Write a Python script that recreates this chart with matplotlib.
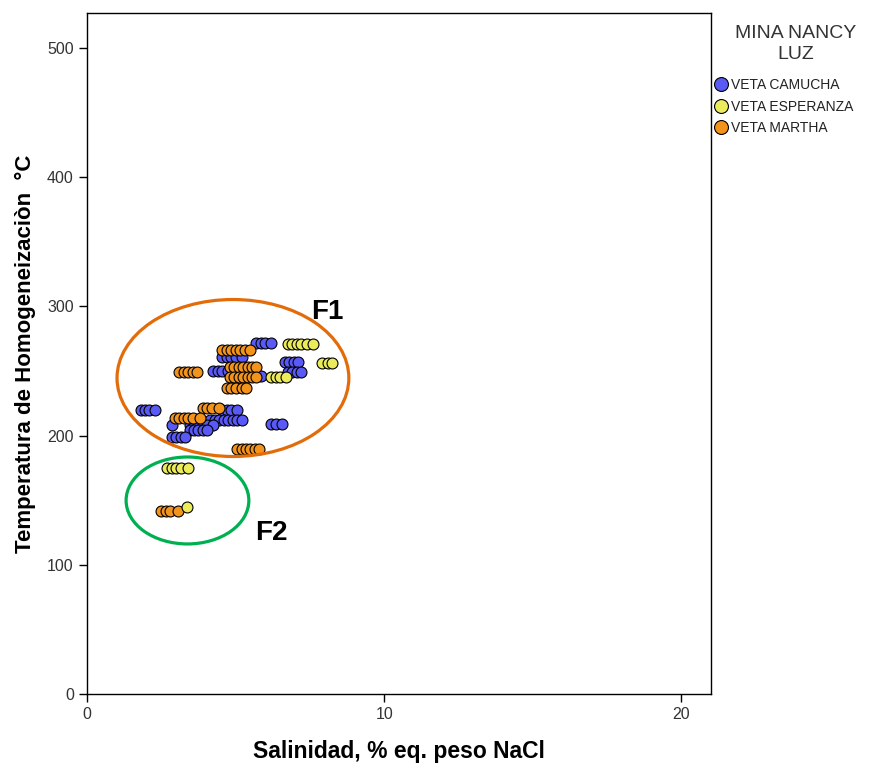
import matplotlib.pyplot as plt
from matplotlib.patches import Ellipse
from matplotlib.lines import Line2D

plt.rcParams['font.family'] = ['Liberation Sans', 'DejaVu Sans']

# salinity (% eq. NaCl) and homogenization temperature (C) per vein
camucha_x = [5.7, 5.85, 6.0, 6.2,
             4.55, 4.7, 4.85, 5.0, 5.2,
             4.25, 4.4, 4.55, 4.75,
             5.4, 5.6, 5.85,
             1.8, 1.95, 2.1, 2.3,
             4.55, 4.7, 4.85, 5.05,
             4.15, 4.3, 4.45, 4.6, 4.75, 4.9, 5.05, 5.2,
             3.45, 3.6, 3.75, 3.9, 4.05, 4.25,
             2.85,
             3.45, 3.6, 3.75, 3.9, 4.05,
             2.85, 3.0, 3.15, 3.3,
             6.65, 6.8, 6.95, 7.1,
             6.75, 6.9, 7.05, 7.2,
             6.2, 6.35, 6.55]
camucha_y = [272, 272, 272, 272,
             261, 261, 261, 261, 261,
             250, 250, 250, 250,
             246, 246, 246,
             220, 220, 220, 220,
             220, 220, 220, 220,
             212, 212, 212, 212, 212, 212, 212, 212,
             208, 208, 208, 208, 208, 208,
             208,
             204, 204, 204, 204, 204,
             199, 199, 199, 199,
             257, 257, 257, 257,
             249, 249, 249, 249,
             209, 209, 209]

esperanza_x = [6.75, 6.9, 7.05, 7.2, 7.4, 7.6,
               7.9, 8.1, 8.25,
               6.2, 6.35, 6.5, 6.7,
               2.7, 2.85, 3.0, 3.15, 3.4,
               3.35]
esperanza_y = [271, 271, 271, 271, 271, 271,
               256, 256, 256,
               245, 245, 245, 245,
               175, 175, 175, 175, 175,
               145]

martha_x = [4.55, 4.7, 4.85, 5.0, 5.15, 5.3, 5.5,
            3.1, 3.25, 3.4, 3.55, 3.7,
            4.8, 4.95, 5.1, 5.25, 5.4, 5.55, 5.7,
            4.8, 4.95, 5.1, 5.25, 5.4, 5.55, 5.7,
            4.7, 4.85, 5.0, 5.2, 5.35,
            3.9, 4.05, 4.2, 4.45,
            2.95, 3.1, 3.25, 3.4, 3.55, 3.8,
            5.05, 5.2, 5.35, 5.5, 5.65, 5.8,
            2.5, 2.65, 2.8, 3.05]
martha_y = [266, 266, 266, 266, 266, 266, 266,
            249, 249, 249, 249, 249,
            253, 253, 253, 253, 253, 253, 253,
            245, 245, 245, 245, 245, 245, 245,
            237, 237, 237, 237, 237,
            221, 221, 221, 221,
            214, 214, 214, 214, 214, 214,
            190, 190, 190, 190, 190, 190,
            142, 142, 142, 142]

labels = ['VETA CAMUCHA', 'VETA ESPERANZA', 'VETA MARTHA']
colors = ['#5959F5', '#EBEB5C', '#F2931C']

fig = plt.figure(figsize=(8.79, 7.65), dpi=100)
ax = fig.add_axes([0.099, 0.0928, 0.71, 0.89])

ax.scatter(camucha_x, camucha_y, s=62, c=colors[0], edgecolors='black', linewidths=0.8, zorder=3)
ax.scatter(martha_x, martha_y, s=62, c=colors[2], edgecolors='black', linewidths=0.8, zorder=3)
ax.scatter(esperanza_x, esperanza_y, s=62, c=colors[1], edgecolors='black', linewidths=0.8, zorder=3)

# grouping ellipses
ax.add_patch(Ellipse((4.91, 244.6), 7.8, 121.5, fill=False, edgecolor='#E36C0A', linewidth=2.3, zorder=4))
ax.add_patch(Ellipse((3.38, 149.8), 4.13, 67.3, fill=False, edgecolor='#00B050', linewidth=2.3, zorder=4))
ax.text(8.07, 296, 'F1', fontsize=20, fontweight='bold', ha='center', va='center')
ax.text(6.22, 125, 'F2', fontsize=20, fontweight='bold', ha='center', va='center')

ax.set_xlim(0, 21)
ax.set_ylim(0, 527)
ax.set_xticks([0, 10, 20])
ax.set_yticks([0, 100, 200, 300, 400, 500])
ax.tick_params(direction='out', length=6, width=1, labelsize=11.5, labelcolor='#333333')
for sp in ax.spines.values():
    sp.set_linewidth(1)

ax.set_xlabel('Salinidad, % eq. peso NaCl', fontsize=16.5, fontweight='bold', labelpad=13)
ax.set_ylabel('Temperatura de Homogeneizaciòn  °C', fontsize=16, fontweight='bold', labelpad=8)

fig.text(796 / 879, 1 - 44 / 765, 'MINA NANCY\nLUZ', ha='center', va='center',
         fontsize=14, color='#333333', linespacing=1.3)
handles = [Line2D([], [], marker='o', linestyle='', markersize=10, markerfacecolor=c,
                  markeredgecolor='black', markeredgewidth=0.8) for c in colors]
leg = fig.legend(handles, labels, loc='upper left', bbox_to_anchor=(0.812, 1 - 78 / 765),
                 frameon=False, fontsize=10, handletextpad=0.25, labelspacing=0.55,
                 handlelength=1.0, borderaxespad=0, borderpad=0)
for t in leg.get_texts():
    t.set_color('#222222')

fig.savefig('out.png', dpi=100)
